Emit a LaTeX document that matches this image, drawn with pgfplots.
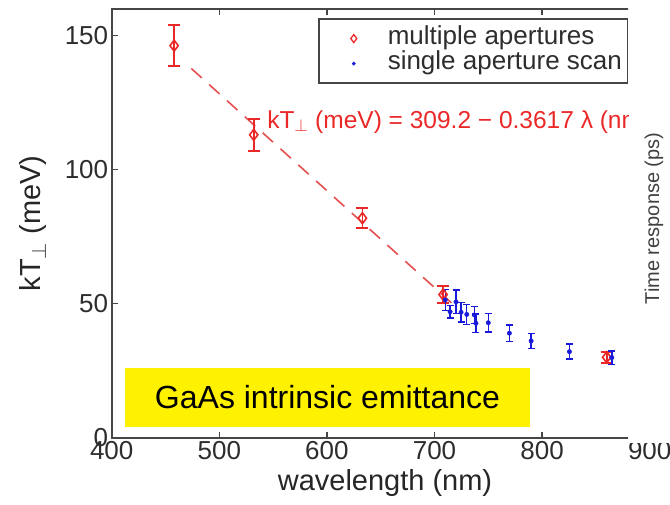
\documentclass[border=0pt]{standalone}
\usepackage{pgfplots}
\pgfplotsset{compat=1.18}
\usepackage{fontspec}
\setmainfont{Liberation Sans}
\definecolor{myred}{RGB}{235,40,40}
\definecolor{dashred}{RGB}{228,80,80}
\definecolor{myblue}{RGB}{25,25,220}
\definecolor{axgray}{RGB}{70,70,70}
\definecolor{tickgray}{RGB}{45,45,45}
\begin{document}
\begin{tikzpicture}[x=1pt,y=1pt]
\useasboundingbox (0,0) rectangle (670,505);
\begin{scope}
\clip (0,0) -- (670,0) -- (670,62) -- (628,62) -- (628,505) -- (0,505) -- cycle;
\begin{axis}[
  at={(111.7pt,67.3pt)}, anchor=south west,
  scale only axis, width=538pt, height=428.8pt,
  xmin=400, xmax=900, ymin=0, ymax=160,
  xtick={400,500,...,900}, ytick={0,50,100,150},
  axis line style={axgray, line width=1.8pt},
  tick style={axgray, line width=1.4pt},
  major tick length=6pt, tick align=inside,
  /pgf/number format/assume math mode=true,
  ticklabel style={font=\fontsize{26}{30}\selectfont, text=tickgray},
  xlabel={wavelength (nm)}, ylabel={kT$_\perp$ (meV)},
  label style={font=\fontsize{29}{34}\selectfont, text=black!85},
  xlabel style={at={(axis description cs:0.508,-0.122)}, anchor=base},
  ylabel style={at={(axis description cs:-0.147,0.5)}, anchor=center},
  legend cell align=left,
  legend style={at={(rel axis cs:0.3835,0.978)}, anchor=north west,
    draw=axgray, line width=1.5pt, inner xsep=6pt, inner ysep=7pt,
    font=\fontsize{26}{30}\selectfont, text=tickgray,
    row sep=0pt, column sep=0pt,
    nodes={inner sep=0pt, text height=18pt, text depth=7pt}},
]
\addplot[dashred, line width=1.6pt, dash pattern=on 14pt off 10pt, forget plot]
  coordinates {(474,137.76) (722,48.05)};
\addplot[myred, only marks, mark=diamond, mark size=5.5pt,
  mark options={line width=1.6pt},
  legend image code/.code={\path[draw=none] (-29pt,0pt) -- (34pt,0pt);
    \path[draw=none, mark=diamond, mark size=4pt, mark options={draw=myred, line width=1.3pt}] plot coordinates {(0pt,0pt)};},
  error bars/.cd, y dir=both, y explicit,
  error bar style={myred, line width=1.8pt},
  error mark options={myred, line width=1.8pt, mark size=6pt, rotate=90}]
  table[x=x, y=y, y error=e] {
x y e
458 146.3 7.7
532 113.0 6.0
633 81.9 3.7
708 53.4 3.2
860 30.0 2.0
};
\addlegendentry{multiple apertures}
\addplot[myblue, only marks, mark=*, mark size=2.2pt,
  legend image code/.code={\path[draw=none] (-29pt,0pt) -- (34pt,0pt);
    \path[draw=none, mark=*, mark size=1.6pt, mark options={draw=myblue, fill=myblue, line width=0.5pt}] plot coordinates {(0pt,0pt)};},
  error bars/.cd, y dir=both, y explicit,
  error bar style={myblue, line width=1.4pt},
  error mark options={myblue, line width=1.4pt, mark size=3.5pt, rotate=90}]
  table[x=x, y=y, y error=e] {
x y e
710 51.4 4.0
714.5 47.0 2.4
720 50.7 4.4
724.7 46.8 3.6
730 46.0 3.7
737 45.8 3.1
738.5 42.7 3.5
750 42.9 3.4
769.6 39.0 3.0
789.8 36.1 2.8
825.4 32.1 2.8
864.8 29.9 2.5
};
\addlegendentry{single aperture scan}
\node[anchor=base west, text=myred, font=\fontsize{24.5}{28}\selectfont, inner sep=0pt]
  at (axis cs:544.4,115.5) {kT$_\perp$ (meV) = 309.2 − 0.3617 λ (nm)};
\end{axis}
\end{scope}
\node[rotate=90, font=\fontsize{20}{24}\selectfont, text=black!75] at (654,286.5) {Time response (ps)};
\node[fill=yellow, minimum width=405pt, minimum height=59pt, inner sep=0pt,
  font=\fontsize{32}{36}\selectfont] at (327.5,107.5) {GaAs intrinsic emittance};
\end{tikzpicture}
\end{document}
